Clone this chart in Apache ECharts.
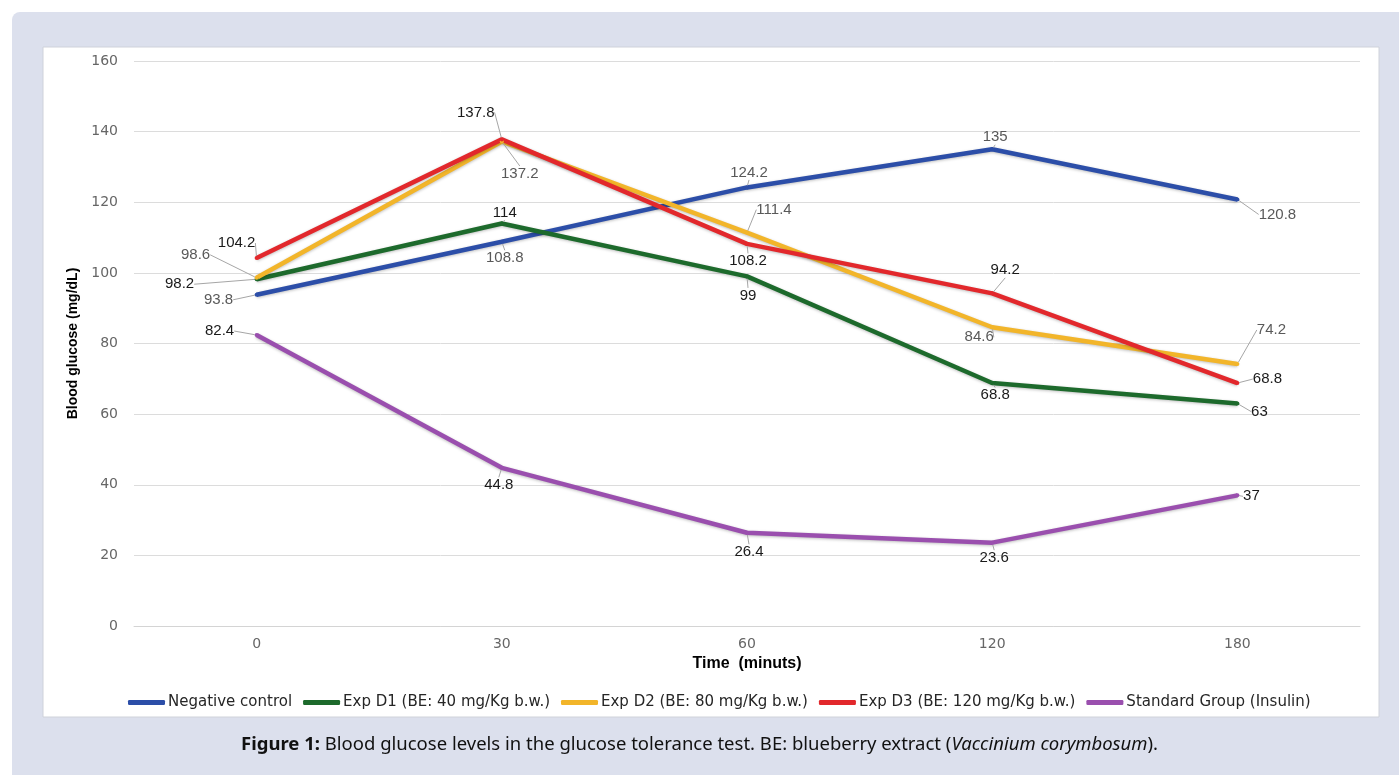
<!DOCTYPE html>
<html>
<head>
<meta charset="utf-8">
<script src="https://cdn.jsdelivr.net/npm/echarts@6/dist/echarts.min.js"></script>
<style>
  html, body { margin: 0; padding: 0; background: #fff; }
  #main { width: 1399px; height: 775px; }
</style>
</head>
<body>
<div id="main"></div>
<script>
// 数据
var times = ['0', '30', '60', '120', '180'];
var negControl = [93.8, 108.8, 124.2, 135, 120.8];
var expD1 = [98.2, 114, 99, 68.8, 63];
var expD2 = [98.6, 137.2, 111.4, 84.6, 74.2];
var expD3 = [104.2, 137.8, 108.2, 94.2, 68.8];
var standard = [82.4, 44.8, 26.4, 23.6, 37];
var seriesNames = ['Negative control', 'Exp D1 (BE: 40 mg/Kg b.w.)', 'Exp D2 (BE: 80 mg/Kg b.w.)',
  'Exp D3 (BE: 120 mg/Kg b.w.)', 'Standard Group (Insulin)'];

var colors = ['#2c4ea8', '#1d6a2c', '#f2b52a', '#e2282c', '#9a4fae'];
var labelColors = ['#595959', '#1a1a1a', '#595959', '#1a1a1a', '#1a1a1a'];

// label offsets from the point (px), one row per series
var labelOffsets = [
  [[-38, 5], [3, 16], [2, -15], [3, -12], [40, 15]],
  [[-77, 5], [3, -11], [1, 19], [3, 12], [22, 8]],
  [[-61, -23], [18, 32], [27, -23], [-13, 10], [34, -34]],
  [[-20, -15], [-26, -27], [1, 17], [13, -23], [30, -4]],
  [[-37, -4], [-3, 17], [2, 19], [2, 15], [14, 1]]
];

var chart = echarts.init(document.getElementById('main'));

function makeSeries(idx, values) {
  return {
    name: seriesNames[idx],
    type: 'line',
    data: values,
    symbol: 'circle',
    symbolSize: 4,
    itemStyle: { color: colors[idx] },
    lineStyle: {
      width: 4.5,
      color: colors[idx],
      shadowColor: 'rgba(0,0,0,0.25)',
      shadowBlur: 3,
      shadowOffsetY: 1
    },
    label: {
      show: true,
      position: 'inside',
      color: labelColors[idx],
      fontFamily: 'Liberation Sans',
      fontSize: 15
    },
    labelLine: {
      show: true,
      lineStyle: { color: '#a6a6a6', width: 1 }
    },
    labelLayout: function (params) {
      var o = labelOffsets[idx][params.dataIndex];
      return { dx: o[0], dy: o[1] };
    },
    emphasis: { disabled: true },
    animation: false
  };
}

var option = {
  animation: false,
  graphic: [
    {
      type: 'rect', z: -10, silent: true,
      shape: { x: 12, y: 12, width: 1420, height: 800, r: 8 },
      style: { fill: '#dce0ed' }
    },
    {
      type: 'rect', z: -9, silent: true,
      shape: { x: 43, y: 47, width: 1336, height: 670 },
      style: { fill: '#ffffff', stroke: '#cfd2da', lineWidth: 1 }
    }
  ],
  title: {
    text: '{b|Figure 1:} Blood glucose levels in the glucose tolerance test. BE: blueberry extract ({i|Vaccinium corymbosum}).',
    left: 'center',
    top: 730,
    textStyle: {
      fontFamily: 'Noto Sans',
      fontSize: 18.5,
      fontWeight: 'normal',
      color: '#111',
      rich: {
        b: { fontFamily: 'Noto Sans', fontSize: 18.5, fontWeight: 'bold', color: '#111' },
        i: { fontFamily: 'Noto Sans', fontSize: 18.5, fontStyle: 'italic', color: '#111' }
      }
    }
  },
  legend: {
    data: seriesNames,
    left: 123,
    top: 690,
    icon: 'roundRect',
    itemWidth: 37,
    itemHeight: 5,
    itemGap: 11,
    textStyle: { fontFamily: 'DejaVu Sans', fontSize: 15, color: '#262626', padding: [0, 0, 0, -2] }
  },
  grid: { left: 134, right: 39, top: 61, bottom: 149 },
  xAxis: {
    type: 'category',
    data: times,
    boundaryGap: true,
    name: 'Time  (minuts)',
    nameLocation: 'middle',
    nameGap: 28,
    nameTextStyle: { fontFamily: 'Liberation Sans', fontWeight: 'bold', fontSize: 16, color: '#000' },
    axisLine: { lineStyle: { color: '#d4d4d4', width: 1 } },
    axisTick: { show: false },
    axisLabel: { fontFamily: 'DejaVu Sans', fontSize: 14, color: '#666666', margin: 11 }
  },
  yAxis: {
    type: 'value',
    min: 0,
    max: 160,
    interval: 20,
    name: 'Blood glucose (mg/dL)',
    nameLocation: 'middle',
    nameGap: 50,
    nameTextStyle: { fontFamily: 'Liberation Sans', fontWeight: 'bold', fontSize: 14, color: '#000' },
    axisLine: { show: false },
    axisTick: { show: false },
    splitLine: { lineStyle: { color: '#dcdcdc', width: 1 } },
    axisLabel: { fontFamily: 'DejaVu Sans', fontSize: 14, color: '#666666', margin: 16 }
  },
  series: [
    makeSeries(0, negControl),
    makeSeries(1, expD1),
    makeSeries(2, expD2),
    makeSeries(3, expD3),
    makeSeries(4, standard)
  ]
};

chart.setOption(option);
</script>
</body>
</html>
